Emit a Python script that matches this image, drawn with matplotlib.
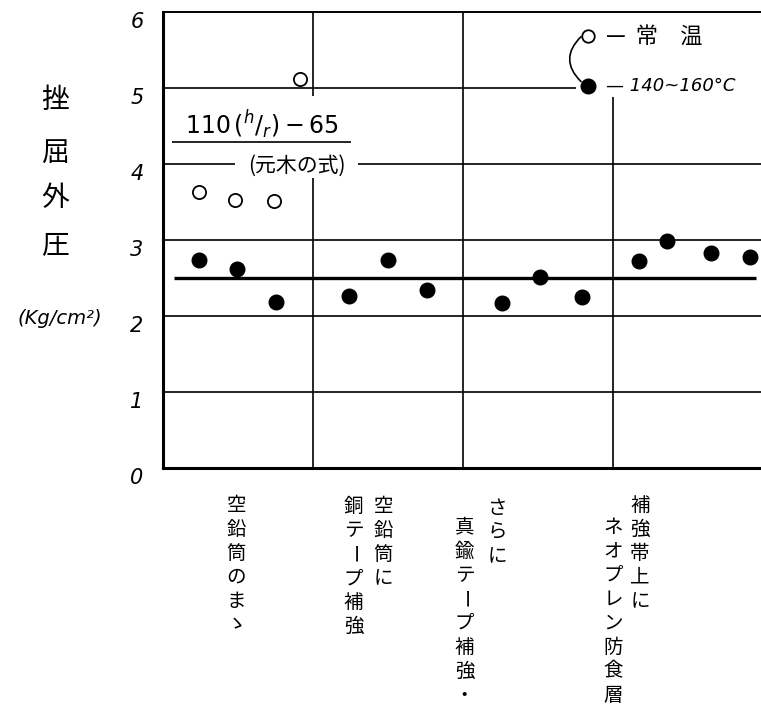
import matplotlib.pyplot as plt
from matplotlib.transforms import ScaledTranslation

plt.rcParams['font.family'] = ['Noto Sans CJK JP', 'DejaVu Sans']

# ---- data ----
room_x = [0.24, 0.48, 0.74, 0.91]
room_y = [3.63, 3.53, 3.51, 5.12]
hot_x = [0.24, 0.49, 0.75, 1.24, 1.50, 1.76, 2.26, 2.51, 2.79, 3.17, 3.36, 3.65, 3.91]
hot_y = [2.74, 2.62, 2.18, 2.26, 2.74, 2.34, 2.17, 2.51, 2.25, 2.72, 2.99, 2.83, 2.78]
formula_value = 2.5
y_ticks = [0, 1, 2, 3, 4, 5, 6]
y_label_chars = ["挫", "屈", "外", "圧"]
y_unit = "(Kg/cm²)"
legend_labels = ["—  常　温", "— 140~160°C"]
formula_text = r"$\mathit{110}\,(^{h}/_{r})-\mathit{65}$"
formula_name = "(元木の式)"
group_labels = [["空鉛筒のまゝ"],
                ["空鉛筒に", "銅テープ補強"],
                ["さらに", "真鍮テープ補強・"],
                ["補強帯上に", "ネオプレン防食層"]]

fig = plt.figure(figsize=(7.61, 7.10), dpi=100)
ax = fig.add_axes([163 / 761, 1 - 468 / 710, 598 / 761, (468 - 12) / 710])
ax.set_xlim(0, 598 / 150)
ax.set_ylim(0, 6)

# frame
for s in ["left", "bottom"]:
    ax.spines[s].set_linewidth(2.2)
ax.spines["top"].set_linewidth(1.4)
ax.spines["right"].set_visible(False)
ax.set_xticks([])
ax.set_yticks(y_ticks)
ax.set_yticklabels([str(t) for t in y_ticks], family="DejaVu Sans",
                   style="italic", fontsize=15)
ax.tick_params(axis="y", length=0, pad=14)
# handwritten numbers sit a little below their lines
shift = ScaledTranslation(0, -6 / 72, fig.dpi_scale_trans)
for lab in ax.get_yticklabels():
    lab.set_transform(lab.get_transform() + shift)

# hand-drawn grid (with gaps for the annotations)
xmax = ax.get_xlim()[1]
g = dict(color="black", lw=1.2, zorder=1)
for yv in [1, 2, 3]:
    ax.hlines(yv, 0, xmax, **g)
ax.hlines(4, 0, 0.48, **g)
ax.hlines(4, 1.30, xmax, **g)
ax.hlines(5, 0, 2.75, **g)
ax.vlines(1, 4.90, 6, **g)
ax.vlines(1, 0, 3.82, **g)
ax.vlines(2, 0, 6, **g)
ax.vlines(3, 0, 4.88, **g)

# formula line
ax.hlines(formula_value, 0.07, 3.95, color="black", lw=2.4, zorder=2)
ax.text(0.66, 4.52, formula_text, ha="center", va="center", fontsize=17)
ax.hlines(4.29, 0.06, 1.25, color="black", lw=1.2)
ax.text(0.89, 3.97, formula_name, ha="center", va="center", fontsize=15)

# points
ax.plot(room_x, room_y, "o", ms=9.5, mfc="white", mec="black", mew=1.3,
        zorder=3, clip_on=False)
ax.plot(hot_x, hot_y, "o", ms=10.5, color="black", zorder=3)

# legend drawn by hand
lx = 2.83
ax.plot([lx], [5.68], "o", ms=9, mfc="white", mec="black", mew=1.3, clip_on=False)
ax.plot([lx], [5.02], "o", ms=10.5, color="black", clip_on=False)
ax.annotate("", xy=(lx - 0.03, 5.06), xytext=(lx - 0.03, 5.70),
            arrowprops=dict(arrowstyle="-", lw=1.2,
                            connectionstyle="arc3,rad=0.55"))
ax.text(2.95, 5.68, legend_labels[0], va="center", fontsize=16)
ax.text(2.95, 5.02, legend_labels[1], va="center", fontsize=13,
        family="DejaVu Sans", style="italic")

# y label, stacked characters
for ch, yp in zip(y_label_chars, [100, 153, 198, 245]):
    fig.text(55 / 761, 1 - yp / 710, ch, ha="center", va="center", fontsize=20)
fig.text(60 / 761, 1 - 318 / 710, y_unit, ha="center", va="center",
         fontsize=14, family="DejaVu Sans", style="italic")

# category labels, written vertically (columns right to left)
col_x = [[0.49], [1.47, 1.27], [2.23, 2.01], [3.18, 3.00]]
col_top = [[-0.49], [-0.51, -0.51], [-0.53, -0.78], [-0.49, -0.78]]
step = 24 / 76
for cols, xs, tops in zip(group_labels, col_x, col_top):
    for s, x0, y0 in zip(cols, xs, tops):
        for i, ch in enumerate(s):
            rot = -90 if ch == "ー" else 0
            ax.text(x0, y0 - i * step, ch, ha="center", va="center",
                    fontsize=14, rotation=rot, clip_on=False)

fig.savefig("out.png", dpi=100)
